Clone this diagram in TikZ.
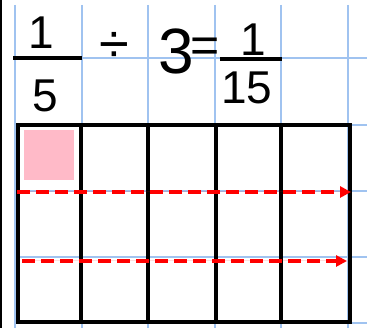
\documentclass[tikz,border=0pt]{standalone}
\usepackage{fontspec}
\setmainfont{Liberation Sans}
\usetikzlibrary{arrows.meta}

\definecolor{gridblue}{RGB}{160,195,240}
\definecolor{pinkfill}{RGB}{255,186,200}

\begin{document}
\begin{tikzpicture}[
  x=1pt, y=-1pt,
  gridline/.style={draw=gridblue, line width=1.2pt},
  cellline/.style={draw=black, line width=4pt},
  fracbar/.style={draw=black, line width=3.5pt},
  arrow/.style={-{Triangle[length=11pt, width=11pt]}, draw=red, fill=red, dash pattern=on 13pt off 6pt, line width=3.5pt},
  num/.style={inner sep=0pt, font=\fontsize{46}{46}\selectfont},
  big/.style={inner sep=0pt, font=\fontsize{64}{64}\selectfont}
]
\fill[white] (0,0) rectangle (367,328);
\useasboundingbox (0,0) rectangle (367,328);
\draw[line width=1.5pt] (0.75,0) -- (0.75,328);

% squared paper
\foreach \x in {15,82,148,215,281,348}
  \draw[gridline] (\x,5) -- (\x,328);
\foreach \y in {58,125,191,257,323}
  \draw[gridline] (15,\y) -- (367,\y);

% 1/5 : 3 = 1/15
\node[num] (num1) at (41,33) {1};
\draw[fracbar] (13,58) -- (82,58);
\node[num] (den5) at (45,96) {5};
\node[num, font=\fontsize{54}{54}\selectfont] (divsign) at (114,47) {÷};
\node[big] (three) at (176,51) {3};
\node[num, font=\fontsize{50}{50}\selectfont] (equals) at (205,50) {=};
\node[num] (num2) at (253,40) {1};
\draw[fracbar] (220,59) -- (282,59);
\node[num] (den15) at (247,88) {15};

% rectangle split into 5 x 3
\fill[pinkfill] (24,130) rectangle (74,180);
\draw[cellline] (18,125) rectangle (350,322);
\foreach \x in {81,148,216,281}
  \draw[cellline] (\x,125) -- (\x,322);

\coordinate (a1) at (17,192);
\coordinate (b1) at (351,192);
\coordinate (a2) at (22,261);
\coordinate (b2) at (347,261);
\draw[arrow] (a1) -- (b1);
\draw[arrow] (a2) -- (b2);
\end{tikzpicture}
\end{document}
